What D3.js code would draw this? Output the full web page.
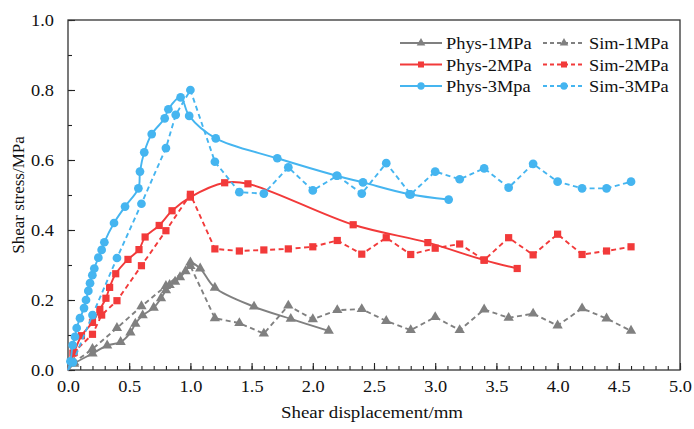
<!DOCTYPE html>
<html>
<head>
<meta charset="utf-8">
<script src="https://cdn.jsdelivr.net/npm/d3@7"></script>
<style>
  body { margin: 0; background: #fff; }
  svg { font-family: "Liberation Serif", "Times New Roman", serif; }
</style>
</head>
<body>
<svg id="chart" width="694" height="429"></svg>
<script>
// data: [displacement mm, stress MPa]
const phys1 = [[0, 0], [0.05, 0.018], [0.2, 0.047], [0.32, 0.07], [0.43, 0.08], [0.51, 0.107], [0.55, 0.132],
  [0.61, 0.156], [0.7, 0.178], [0.76, 0.205], [0.8, 0.228], [0.83, 0.243], [0.875, 0.252], [0.915, 0.265],
  [0.96, 0.282], [1.0, 0.307], [1.08, 0.29], [1.2, 0.235], [1.52, 0.181], [1.82, 0.146], [2.13, 0.112]];
const sim1 = [[0, 0], [0.05, 0.022], [0.2, 0.06], [0.4, 0.12], [0.6, 0.182], [0.8, 0.24], [1.0, 0.297],
  [1.2, 0.148], [1.4, 0.134], [1.6, 0.104], [1.8, 0.184], [2.0, 0.145], [2.2, 0.171], [2.4, 0.174],
  [2.6, 0.14], [2.8, 0.114], [3.0, 0.151], [3.2, 0.114], [3.4, 0.173], [3.6, 0.149], [3.8, 0.161],
  [4.0, 0.127], [4.2, 0.176], [4.4, 0.147], [4.6, 0.112]];
const phys2 = [[0, 0], [0.05, 0.05], [0.11, 0.098], [0.2, 0.136], [0.26, 0.173], [0.31, 0.205], [0.34, 0.236],
  [0.39, 0.275], [0.49, 0.316], [0.58, 0.344], [0.63, 0.38], [0.745, 0.413], [0.85, 0.455], [1.0, 0.494],
  [1.28, 0.535], [1.47, 0.532], [2.33, 0.415], [2.94, 0.364], [3.4, 0.314], [3.67, 0.29]];
const sim2 = [[0, 0], [0.04, 0.048], [0.2, 0.102], [0.275, 0.157], [0.4, 0.198], [0.6, 0.298], [0.8, 0.398],
  [1.0, 0.502], [1.2, 0.346], [1.4, 0.34], [1.6, 0.343], [1.8, 0.346], [2.0, 0.352], [2.2, 0.37],
  [2.4, 0.331], [2.6, 0.378], [2.8, 0.33], [3.0, 0.348], [3.2, 0.36], [3.4, 0.314], [3.6, 0.378],
  [3.8, 0.329], [4.0, 0.388], [4.2, 0.33], [4.4, 0.34], [4.6, 0.352]];
const phys3 = [[0, 0], [0.02, 0.025], [0.038, 0.071], [0.057, 0.095], [0.071, 0.12], [0.098, 0.148],
  [0.131, 0.177], [0.147, 0.2], [0.166, 0.226], [0.18, 0.248], [0.199, 0.271], [0.215, 0.29],
  [0.248, 0.321], [0.275, 0.343], [0.297, 0.365], [0.376, 0.42], [0.466, 0.467], [0.575, 0.519],
  [0.588, 0.567], [0.623, 0.622], [0.684, 0.674], [0.79, 0.719], [0.82, 0.745], [0.92, 0.779],
  [0.99, 0.726], [1.207, 0.662], [1.71, 0.605], [2.195, 0.555], [2.41, 0.536], [2.79, 0.502], [3.11, 0.487]];
const sim3 = [[0, 0], [0.04, 0.022], [0.2, 0.157], [0.4, 0.32], [0.6, 0.475], [0.8, 0.634], [0.88, 0.729],
  [1.0, 0.8], [1.2, 0.595], [1.4, 0.508], [1.6, 0.504], [1.8, 0.579], [2.0, 0.513], [2.2, 0.555],
  [2.4, 0.504], [2.6, 0.591], [2.8, 0.502], [3.0, 0.567], [3.2, 0.545], [3.4, 0.576], [3.6, 0.521],
  [3.8, 0.589], [4.0, 0.538], [4.2, 0.519], [4.4, 0.519], [4.6, 0.538]];

const seriesNames = ["Phys-1MPa", "Sim-1MPa", "Phys-2MPa", "Sim-2MPa", "Phys-3Mpa", "Sim-3MPa"];
const seriesData = [phys1, sim1, phys2, sim2, phys3, sim3];
const xTicks = [0, 0.5, 1, 1.5, 2, 2.5, 3, 3.5, 4, 4.5, 5];
const yTicks = [0, 0.2, 0.4, 0.6, 0.8, 1.0];

const colors = { gray: "#808080", red: "#f23a3a", blue: "#45b5f0" };
const styles = [
  { color: colors.gray, dashed: false, symbol: d3.symbolTriangle, size: 46 },
  { color: colors.gray, dashed: true, symbol: d3.symbolTriangle, size: 46 },
  { color: colors.red, dashed: false, symbol: d3.symbolSquare, size: 52 },
  { color: colors.red, dashed: true, symbol: d3.symbolSquare, size: 52 },
  { color: colors.blue, dashed: false, symbol: d3.symbolCircle, size: 60 },
  { color: colors.blue, dashed: true, symbol: d3.symbolCircle, size: 60 }
];

const width = 694, height = 429;
const margin = { top: 20, right: 14, bottom: 59, left: 68 };
const innerWidth = width - margin.left - margin.right;
const innerHeight = height - margin.top - margin.bottom;
const fontSize = 17;
const stretch = "scale(1.08,1)"; // the reference type is a bit wide

const svg = d3.select("#chart");
const g = svg.append("g").attr("transform", `translate(${margin.left},${margin.top})`);

const x = d3.scaleLinear().domain([0, 5]).range([0, innerWidth]);
const y = d3.scaleLinear().domain([0, 1]).range([innerHeight, 0]);

// minor ticks
const xMinor = d3.axisBottom(x).tickValues(d3.range(0, 5.01, 0.1)).tickSize(-4).tickFormat("");
const yMinor = d3.axisLeft(y).tickValues(d3.range(0, 1.01, 0.1)).tickSize(-4).tickFormat("");
g.append("g").attr("transform", `translate(0,${innerHeight})`).call(xMinor);
g.append("g").call(yMinor);
g.selectAll("g.tick text").remove();

const xAxis = d3.axisBottom(x).tickValues(xTicks).tickSize(-7).tickPadding(10).tickFormat(d3.format(".1f"));
const yAxis = d3.axisLeft(y).tickValues(yTicks).tickSize(-7).tickPadding(7).tickFormat(d3.format(".1f"));
g.append("g").attr("transform", `translate(0,${innerHeight})`).call(xAxis);
g.append("g").attr("class", "y-major").call(yAxis);

g.selectAll(".domain").remove();
g.selectAll(".tick line").attr("stroke", "#222").attr("stroke-width", 1.1);
g.selectAll(".tick text").attr("font-size", fontSize).attr("fill", "#111")
  .attr("font-family", "Liberation Serif, serif").attr("transform", stretch);
g.selectAll(".y-major .tick text").attr("x", -13);

g.append("rect").attr("width", innerWidth).attr("height", innerHeight)
  .attr("fill", "none").attr("stroke", "#333").attr("stroke-width", 1.3);

// series
const lineSmooth = d3.line().x(d => x(d[0])).y(d => y(d[1])).curve(d3.curveCatmullRom.alpha(0.5));
const lineStraight = d3.line().x(d => x(d[0])).y(d => y(d[1]));

seriesData.forEach((data, i) => {
  const st = styles[i];
  g.append("path")
    .datum(data)
    .attr("fill", "none")
    .attr("stroke", st.color)
    .attr("stroke-width", 1.9)
    .attr("stroke-dasharray", st.dashed ? "5,3.5" : null)
    .attr("d", st.dashed ? lineStraight : lineSmooth);
  g.selectAll(null)
    .data(data.slice(1))
    .enter()
    .append("path")
    .attr("transform", d => `translate(${x(d[0])},${y(d[1])})`)
    .attr("d", d3.symbol().type(st.symbol).size(st.size))
    .attr("fill", st.color);
});

// legend
const legend = svg.append("g").attr("font-size", fontSize).attr("fill", "#111");
seriesNames.forEach((name, i) => {
  const st = styles[i];
  const col = st.dashed ? 1 : 0;
  const row = Math.floor(i / 2);
  const lx = col ? 543 : 400;
  const ly = 43 + row * 21.5;
  legend.append("line")
    .attr("x1", lx).attr("x2", lx + 42).attr("y1", ly).attr("y2", ly)
    .attr("stroke", st.color).attr("stroke-width", 1.8)
    .attr("stroke-dasharray", st.dashed ? "4,3" : null);
  legend.append("path")
    .attr("transform", `translate(${lx + 21},${ly})`)
    .attr("d", d3.symbol().type(st.symbol).size(st.size * 0.7))
    .attr("fill", st.color);
  legend.append("text")
    .attr("transform", `translate(${lx + 46},${ly + 6}) ${stretch}`)
    .text(name);
});

// axis titles
svg.append("text")
  .attr("transform", `translate(${margin.left + innerWidth / 2 - 2},418) ${stretch}`)
  .attr("text-anchor", "middle").attr("font-size", fontSize + 0.5).attr("fill", "#111")
  .text("Shear displacement/mm");
svg.append("text")
  .attr("transform", `translate(24,${margin.top + innerHeight / 2}) rotate(-90)`)
  .attr("text-anchor", "middle").attr("font-size", fontSize).attr("fill", "#111")
  .text("Shear stress/MPa");
</script>
</body>
</html>
